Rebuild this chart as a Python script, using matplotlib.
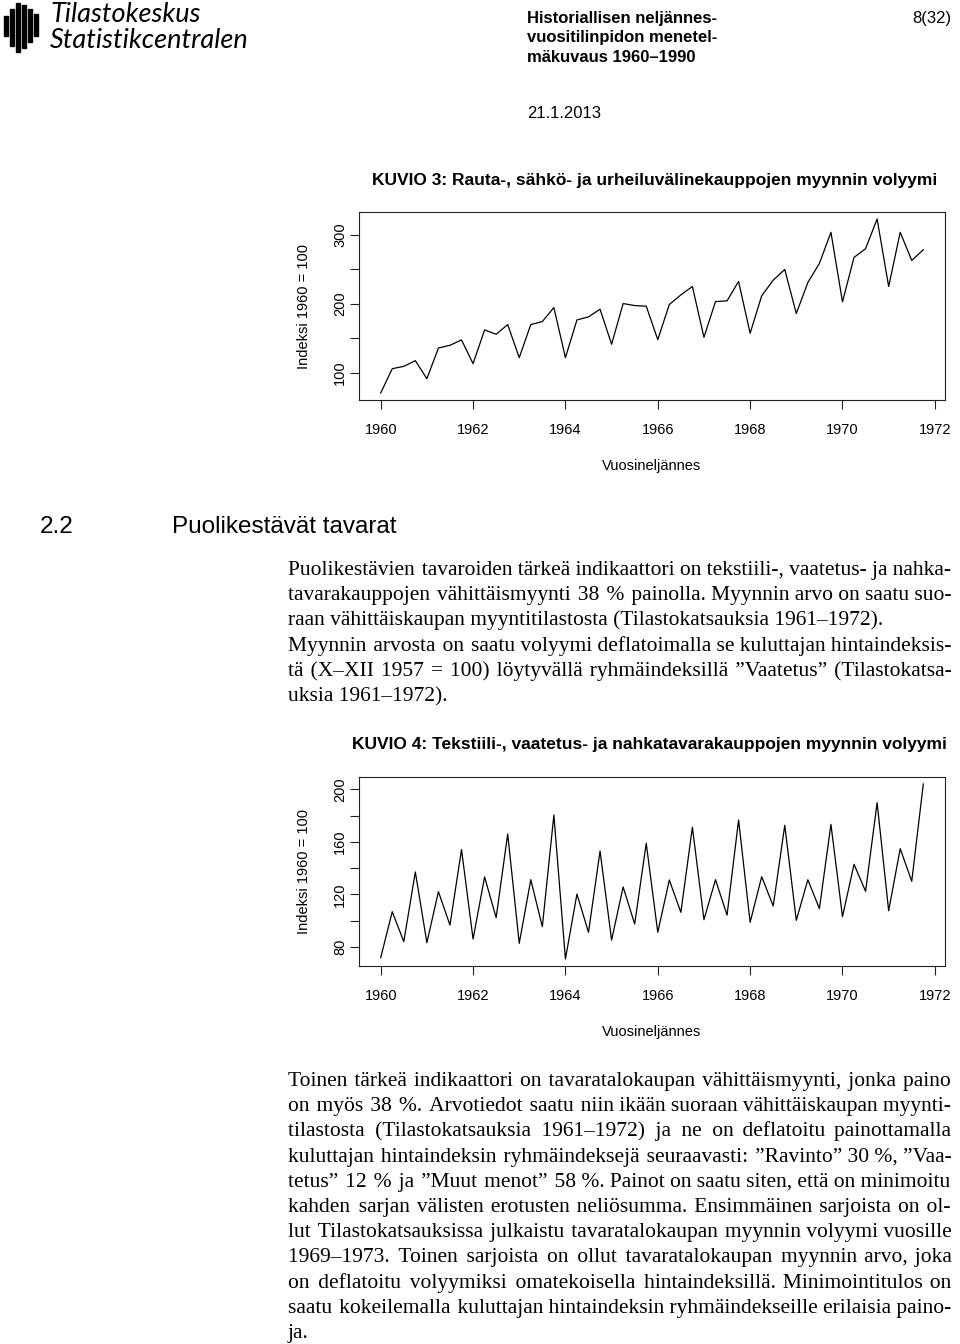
import matplotlib
matplotlib.use("Agg")
import matplotlib.pyplot as plt
import numpy as np
from matplotlib import font_manager
from matplotlib.patches import Rectangle

W, H = 960, 1344  # page size in pixels (dpi 100)

# Quarterly index values 1960Q1 - 1971Q4
kuvio3_values = [70.5, 105.8, 109.2, 117.4, 91.3, 135.8, 139.7, 147.5,
                 113.1, 162.0, 155.7, 169.7, 121.8, 169.7, 174.1, 194.4,
                 121.8, 176.5, 180.9, 192.0, 141.2, 200.2, 197.3, 196.4,
                 147.9, 198.8, 212.8, 224.9, 151.3, 203.1, 204.1, 232.2,
                 157.1, 211.4, 234.1, 249.6, 185.7, 230.7, 258.4, 303.4,
                 202.7, 267.1, 279.7, 322.8, 224.9, 303.4, 262.7, 278.2]
kuvio4_values = [71.9, 106.9, 84.1, 137.1, 83.3, 122.1, 96.7, 154.1,
                 86.1, 133.3, 102.3, 166.0, 82.8, 131.2, 95.5, 180.4,
                 70.9, 120.3, 91.2, 153.0, 85.3, 125.7, 97.5, 158.9,
                 91.2, 131.0, 106.4, 171.1, 100.8, 131.2, 104.3, 176.6,
                 98.8, 133.5, 111.2, 172.6, 100.3, 131.2, 109.2, 173.3,
                 103.1, 142.9, 122.4, 189.8, 107.6, 154.8, 130.0, 204.0]
start_year = 1960

x_ticks = [1960, 1962, 1964, 1966, 1968, 1970, 1972]
kuvio3_yticks = [100, 150, 200, 250, 300]
kuvio3_ylabels = ["100", "", "200", "", "300"]
kuvio4_yticks = [80, 100, 120, 140, 160, 180, 200]
kuvio4_ylabels = ["80", "", "120", "", "160", "", "200"]

header_lines = ["Historiallisen neljännes-", "vuositilinpidon menetel-",
                "mäkuvaus 1960\u20131990"]
kuvio3_title = "KUVIO 3: Rauta-, sähkö- ja urheiluvälinekauppojen myynnin volyymi"
kuvio4_title = "KUVIO 4: Tekstiili-, vaatetus- ja nahkatavarakauppojen myynnin volyymi"

# (line, justify?)
para1 = [
    ("Puolikestävien tavaroiden tärkeä indikaattori on tekstiili-, vaatetus- ja nahka-", True),
    ("tavarakauppojen vähittäismyynti 38 % painolla. Myynnin arvo on saatu suo-", True),
    ("raan vähittäiskaupan myyntitilastosta (Tilastokatsauksia 1961\u20131972).", False),
    ("Myynnin arvosta on saatu volyymi deflatoimalla se kuluttajan hintaindeksis-", True),
    ("tä (X\u2013XII 1957 = 100) löytyvällä ryhmäindeksillä \u201dVaatetus\u201d (Tilastokatsa-", True),
    ("uksia 1961\u20131972).", False),
]
para2 = [
    ("Toinen tärkeä indikaattori on tavaratalokaupan vähittäismyynti, jonka paino", True),
    ("on myös 38 %. Arvotiedot saatu niin ikään suoraan vähittäiskaupan myynti-", True),
    ("tilastosta (Tilastokatsauksia 1961\u20131972) ja ne on deflatoitu painottamalla", True),
    ("kuluttajan hintaindeksin ryhmäindeksejä seuraavasti: \u201dRavinto\u201d 30 %, \u201dVaa-", True),
    ("tetus\u201d 12 % ja \u201dMuut menot\u201d 58 %. Painot on saatu siten, että on minimoitu", True),
    ("kahden sarjan välisten erotusten neliösumma. Ensimmäinen sarjoista on ol-", True),
    ("lut Tilastokatsauksissa julkaistu tavaratalokaupan myynnin volyymi vuosille", True),
    ("1969\u20131973. Toinen sarjoista on ollut tavaratalokaupan myynnin arvo, joka", True),
    ("on deflatoitu volyymiksi omatekoisella hintaindeksillä. Minimointitulos on", True),
    ("saatu kokeilemalla kuluttajan hintaindeksin ryhmäindekseille erilaisia paino-", True),
    ("ja.", False),
]

installed = {f.name for f in font_manager.fontManager.ttflist}
SANS = "Liberation Sans"
NARROW = "Liberation Sans Narrow" if "Liberation Sans Narrow" in installed else SANS
SERIF = ["Liberation Serif", "DejaVu Serif"]
HAIR = "\u200a"
plt.rcParams["font.family"] = SANS

fig = plt.figure(figsize=(W / 100, H / 100), dpi=100)
renderer = fig.canvas.get_renderer()


def px(x, y):
    return x / W, 1 - y / H


def text_width(s, size):
    t = fig.text(0, 0, s, family=SERIF, fontsize=size)
    w = t.get_window_extent(renderer).width
    t.remove()
    return w


def fit_size(lines, width, size):
    # shrink the font if a justified line would not fit with normal spacing
    k = 1.0
    for line, just in lines:
        words = line.split(" ")
        if not just or len(words) < 2:
            continue
        need = text_width(line, size) - (len(words) - 1) * 0.05 * size * 100 / 72
        k = min(k, width / need)
    return size * k


def justified(lines, x0, x1, y0, dy, size):
    size = fit_size(lines, x1 - x0, size)
    hair = (text_width("x" + HAIR * 40 + "x", size) - text_width("xx", size)) / 40
    for k, (line, just) in enumerate(lines):
        words = line.split(" ")
        g = len(words) - 1
        s = line
        if just and g > 0:
            base = text_width(HAIR.join(words), size)
            n = max(0, round((x1 - x0 - base) / hair))
            per, rest = divmod(n, g)
            s = words[0]
            for i, w in enumerate(words[1:]):
                s += HAIR * (1 + per + (1 if i < rest else 0)) + w
        fig.text(*px(x0, y0 + k * dy), s, family=SERIF, fontsize=size, va="baseline")


def draw_chart(box, values, yticks, ylabels):
    left, top, right, bottom = box
    ax = fig.add_axes([left / W, 1 - bottom / H, (right - left) / W, (bottom - top) / H])
    x = start_year + np.arange(len(values)) / 4
    ax.plot(x, values, color="black", lw=0.9)
    ax.margins(x=0.04, y=0.04)
    ax.set_xticks(x_ticks)
    ax.set_xticklabels([str(t) for t in x_ticks])
    ax.set_yticks(yticks)
    ax.set_yticklabels(ylabels, rotation=90, va="center")
    for s in ax.spines.values():
        s.set_color("#222222")
        s.set_linewidth(0.8)
    ax.tick_params(direction="out", length=6.5, width=0.8, labelsize=10.5, color="#222222")
    ax.tick_params(axis="x", pad=10)
    ax.tick_params(axis="y", pad=2)
    ax.set_xlabel("Vuosineljännes", fontsize=10.5, labelpad=16)
    ax.set_ylabel("Indeksi 1960 = 100", fontsize=10.5, labelpad=16)
    return ax


# logo
for bx, btop, bbot in [(4, 16, 36), (10, 9, 46), (16, 3, 52), (22, 5, 48), (28, 9, 42), (34, 14, 36)]:
    fig.add_artist(Rectangle(px(bx, bbot), 4 / W, (bbot - btop) / H,
                             color="black", transform=fig.transFigure))
fig.text(*px(50, 14), "Tilastokeskus", family="Lato", style="italic",
         fontsize=19.5, va="center")
fig.text(*px(50, 40), "Statistikcentralen", family="Lato", style="italic",
         fontsize=19.5, va="center")

# page header
for k, line in enumerate(header_lines):
    fig.text(*px(527, 18 + 19.5 * k), line, family=NARROW, weight="bold",
             fontsize=12, va="center")
fig.text(*px(951, 18), "8(32)", family=NARROW, fontsize=12, va="center", ha="right")
fig.text(*px(527, 114), "21.1.2013", family=NARROW, fontsize=12, va="center")

# KUVIO 3
fig.text(*px(372, 180), kuvio3_title, weight="bold", fontsize=12.5, va="center")
draw_chart((359, 212, 945, 400), kuvio3_values, kuvio3_yticks, kuvio3_ylabels)

# section heading
fig.text(*px(40, 527), "2.2", fontsize=17.5, va="center")
fig.text(*px(172, 527), "Puolikestävät tavarat", fontsize=17.5, va="center")
justified(para1, 288, 951, 575, 25.2, 15.5)

# KUVIO 4
fig.text(*px(352, 744), kuvio4_title, weight="bold", fontsize=12.5, va="center")
draw_chart((359, 777, 945, 966), kuvio4_values, kuvio4_yticks, kuvio4_ylabels)

justified(para2, 288, 951, 1086, 25.2, 15.5)

fig.savefig("out.png", dpi=100)
